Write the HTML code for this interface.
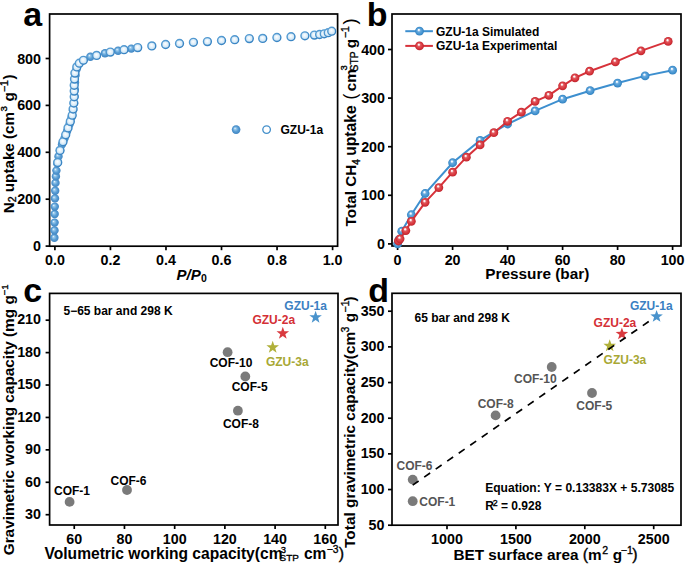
<!DOCTYPE html><html><head><meta charset="utf-8"><style>html,body{margin:0;padding:0;background:#fff;width:685px;height:564px;overflow:hidden}svg{display:block}text{font-family:"Liberation Sans",sans-serif}</style></head><body>
<svg width="685" height="564" viewBox="0 0 685 564">
<defs>
<radialGradient id="gb" cx="0.5" cy="0.5" r="0.5" fx="0.36" fy="0.34"><stop offset="0" stop-color="#f4faff"/><stop offset="0.22" stop-color="#9ccbec"/><stop offset="0.6" stop-color="#5a9ed5"/><stop offset="1" stop-color="#3f85c2"/></radialGradient>
<radialGradient id="go" cx="0.5" cy="0.5" r="0.5" fx="0.45" fy="0.4"><stop offset="0" stop-color="#ffffff"/><stop offset="0.6" stop-color="#dcedf9"/><stop offset="1" stop-color="#b8d9f0"/></radialGradient>
<linearGradient id="gos" x1="0" y1="0" x2="1" y2="1"><stop offset="0" stop-color="#5ea2d6"/><stop offset="1" stop-color="#2f7dbf"/></linearGradient>
<radialGradient id="gbb" cx="0.5" cy="0.5" r="0.5" fx="0.4" fy="0.32"><stop offset="0" stop-color="#ffffff"/><stop offset="0.14" stop-color="#f2f8fd"/><stop offset="0.38" stop-color="#69aade"/><stop offset="0.75" stop-color="#4494d0"/><stop offset="1" stop-color="#3381c0"/></radialGradient>
<radialGradient id="grr" cx="0.5" cy="0.5" r="0.5" fx="0.4" fy="0.32"><stop offset="0" stop-color="#ffffff"/><stop offset="0.14" stop-color="#fdf1f1"/><stop offset="0.38" stop-color="#e0575d"/><stop offset="0.75" stop-color="#d7343b"/><stop offset="1" stop-color="#bd262e"/></radialGradient>
</defs>
<rect width="685" height="564" fill="#fff"/>
<rect x="49.6" y="14" width="288" height="232.2" fill="none" stroke="#000" stroke-width="1.7"/>
<line x1="54.9" y1="246.2" x2="54.9" y2="250.2" stroke="#000" stroke-width="1.7"/>
<text x="54.9" y="265" font-size="14.3" text-anchor="middle" font-weight="bold" fill="#000" >0.0</text>
<line x1="110.44" y1="246.2" x2="110.44" y2="250.2" stroke="#000" stroke-width="1.7"/>
<text x="110.44" y="265" font-size="14.3" text-anchor="middle" font-weight="bold" fill="#000" >0.2</text>
<line x1="165.98" y1="246.2" x2="165.98" y2="250.2" stroke="#000" stroke-width="1.7"/>
<text x="165.98" y="265" font-size="14.3" text-anchor="middle" font-weight="bold" fill="#000" >0.4</text>
<line x1="221.52" y1="246.2" x2="221.52" y2="250.2" stroke="#000" stroke-width="1.7"/>
<text x="221.52" y="265" font-size="14.3" text-anchor="middle" font-weight="bold" fill="#000" >0.6</text>
<line x1="277.06" y1="246.2" x2="277.06" y2="250.2" stroke="#000" stroke-width="1.7"/>
<text x="277.06" y="265" font-size="14.3" text-anchor="middle" font-weight="bold" fill="#000" >0.8</text>
<line x1="332.6" y1="246.2" x2="332.6" y2="250.2" stroke="#000" stroke-width="1.7"/>
<text x="332.6" y="265" font-size="14.3" text-anchor="middle" font-weight="bold" fill="#000" >1.0</text>
<line x1="45.6" y1="246.1" x2="49.6" y2="246.1" stroke="#000" stroke-width="1.7"/>
<text x="41" y="251.1" font-size="14.3" text-anchor="end" font-weight="bold" fill="#000" >0</text>
<line x1="45.6" y1="199.2" x2="49.6" y2="199.2" stroke="#000" stroke-width="1.7"/>
<text x="41" y="204.2" font-size="14.3" text-anchor="end" font-weight="bold" fill="#000" >200</text>
<line x1="45.6" y1="152.3" x2="49.6" y2="152.3" stroke="#000" stroke-width="1.7"/>
<text x="41" y="157.3" font-size="14.3" text-anchor="end" font-weight="bold" fill="#000" >400</text>
<line x1="45.6" y1="105.4" x2="49.6" y2="105.4" stroke="#000" stroke-width="1.7"/>
<text x="41" y="110.4" font-size="14.3" text-anchor="end" font-weight="bold" fill="#000" >600</text>
<line x1="45.6" y1="58.5" x2="49.6" y2="58.5" stroke="#000" stroke-width="1.7"/>
<text x="41" y="63.5" font-size="14.3" text-anchor="end" font-weight="bold" fill="#000" >800</text>
<text x="23.3" y="26.3" font-size="34" text-anchor="start" font-weight="bold" fill="#000" >a</text>
<text font-weight="bold" transform="translate(13.8,213.2) rotate(-90)"><tspan x="0" y="0" font-size="15.2">N</tspan><tspan x="10.98" y="2.2" font-size="10.5" font-weight="normal" stroke="#000" stroke-width="0.35">2</tspan><tspan x="16.82" y="0" font-size="15.2"> uptake (cm</tspan><tspan x="101.6" y="-7.2" font-size="9.8" font-weight="normal" stroke="#000" stroke-width="0.35">3</tspan><tspan x="111.8" y="0" font-size="15.2">g</tspan><tspan x="121.2" y="-6.3" font-size="10.3" font-weight="normal" stroke="#000" stroke-width="0.35">−1</tspan><tspan x="133.8" y="0" font-size="15.2">)</tspan></text>
<text font-weight="bold" transform="translate(0,279.8)"><tspan x="176.5" y="0" font-size="15" font-style="italic">P</tspan><tspan x="186.51" y="0" font-size="15" font-style="italic">/</tspan><tspan x="190.67" y="0" font-size="15" font-style="italic">P</tspan><tspan x="200.98" y="2.5" font-size="10.5">0</tspan></text>
<circle cx="54.4" cy="237.8" r="4.2" fill="url(#gb)"/>
<circle cx="54.5" cy="230.4" r="4.2" fill="url(#gb)"/>
<circle cx="54.6" cy="222.6" r="4.2" fill="url(#gb)"/>
<circle cx="54.7" cy="214" r="4.2" fill="url(#gb)"/>
<circle cx="54.8" cy="206.6" r="4.2" fill="url(#gb)"/>
<circle cx="55" cy="198.4" r="4.2" fill="url(#gb)"/>
<circle cx="55.2" cy="190.7" r="4.2" fill="url(#gb)"/>
<circle cx="55.5" cy="182.9" r="4.2" fill="url(#gb)"/>
<circle cx="55.9" cy="176.4" r="4.2" fill="url(#gb)"/>
<circle cx="56.4" cy="170.6" r="4.2" fill="url(#gb)"/>
<circle cx="57.2" cy="163.4" r="4.2" fill="url(#gb)"/>
<circle cx="58.5" cy="156.4" r="4.2" fill="url(#gb)"/>
<circle cx="60" cy="150.4" r="4.2" fill="url(#gb)"/>
<circle cx="62" cy="144.4" r="4.2" fill="url(#gb)"/>
<circle cx="64.5" cy="138.4" r="4.2" fill="url(#gb)"/>
<circle cx="67" cy="131.4" r="4.2" fill="url(#gb)"/>
<circle cx="69.5" cy="124.4" r="4.2" fill="url(#gb)"/>
<circle cx="71.5" cy="117.4" r="4.2" fill="url(#gb)"/>
<circle cx="73" cy="110.4" r="4.2" fill="url(#gb)"/>
<circle cx="74" cy="103.4" r="4.2" fill="url(#gb)"/>
<circle cx="74.5" cy="96.4" r="4.2" fill="url(#gb)"/>
<circle cx="74.8" cy="89.4" r="4.2" fill="url(#gb)"/>
<circle cx="75" cy="82.4" r="4.2" fill="url(#gb)"/>
<circle cx="75.5" cy="75.4" r="4.2" fill="url(#gb)"/>
<circle cx="76.5" cy="69.4" r="4.2" fill="url(#gb)"/>
<circle cx="79" cy="63.9" r="4.2" fill="url(#gb)"/>
<circle cx="90.4" cy="56.8" r="4.2" fill="url(#gb)"/>
<circle cx="105" cy="53.2" r="4.2" fill="url(#gb)"/>
<circle cx="118.1" cy="50.7" r="4.2" fill="url(#gb)"/>
<circle cx="131.3" cy="48.6" r="4.2" fill="url(#gb)"/>
<circle cx="57.7" cy="162.4" r="3.95" fill="url(#go)" stroke="url(#gos)" stroke-width="1.4"/>
<circle cx="60" cy="150.4" r="3.95" fill="url(#go)" stroke="url(#gos)" stroke-width="1.4"/>
<circle cx="63" cy="141.7" r="3.95" fill="url(#go)" stroke="url(#gos)" stroke-width="1.4"/>
<circle cx="65.7" cy="134.8" r="3.95" fill="url(#go)" stroke="url(#gos)" stroke-width="1.4"/>
<circle cx="68" cy="127.9" r="3.95" fill="url(#go)" stroke="url(#gos)" stroke-width="1.4"/>
<circle cx="70.3" cy="121.4" r="3.95" fill="url(#go)" stroke="url(#gos)" stroke-width="1.4"/>
<circle cx="72.2" cy="115.2" r="3.95" fill="url(#go)" stroke="url(#gos)" stroke-width="1.4"/>
<circle cx="73.1" cy="109" r="3.95" fill="url(#go)" stroke="url(#gos)" stroke-width="1.4"/>
<circle cx="73.8" cy="103" r="3.95" fill="url(#go)" stroke="url(#gos)" stroke-width="1.4"/>
<circle cx="74.2" cy="96.8" r="3.95" fill="url(#go)" stroke="url(#gos)" stroke-width="1.4"/>
<circle cx="74.2" cy="91.1" r="3.95" fill="url(#go)" stroke="url(#gos)" stroke-width="1.4"/>
<circle cx="74.2" cy="85.3" r="3.95" fill="url(#go)" stroke="url(#gos)" stroke-width="1.4"/>
<circle cx="74.5" cy="79.1" r="3.95" fill="url(#go)" stroke="url(#gos)" stroke-width="1.4"/>
<circle cx="74.9" cy="73.1" r="3.95" fill="url(#go)" stroke="url(#gos)" stroke-width="1.4"/>
<circle cx="76.8" cy="66.9" r="3.95" fill="url(#go)" stroke="url(#gos)" stroke-width="1.4"/>
<circle cx="79.3" cy="63.2" r="3.95" fill="url(#go)" stroke="url(#gos)" stroke-width="1.4"/>
<circle cx="83.4" cy="60.3" r="3.95" fill="url(#go)" stroke="url(#gos)" stroke-width="1.4"/>
<circle cx="96.6" cy="55.4" r="3.95" fill="url(#go)" stroke="url(#gos)" stroke-width="1.4"/>
<circle cx="110.3" cy="52.1" r="3.95" fill="url(#go)" stroke="url(#gos)" stroke-width="1.4"/>
<circle cx="124" cy="49.7" r="3.95" fill="url(#go)" stroke="url(#gos)" stroke-width="1.4"/>
<circle cx="137.7" cy="47.6" r="3.95" fill="url(#go)" stroke="url(#gos)" stroke-width="1.4"/>
<circle cx="151.8" cy="45.9" r="3.95" fill="url(#go)" stroke="url(#gos)" stroke-width="1.4"/>
<circle cx="165.6" cy="44.5" r="3.95" fill="url(#go)" stroke="url(#gos)" stroke-width="1.4"/>
<circle cx="179.5" cy="43.5" r="3.95" fill="url(#go)" stroke="url(#gos)" stroke-width="1.4"/>
<circle cx="193.4" cy="42.3" r="3.95" fill="url(#go)" stroke="url(#gos)" stroke-width="1.4"/>
<circle cx="207.4" cy="41.6" r="3.95" fill="url(#go)" stroke="url(#gos)" stroke-width="1.4"/>
<circle cx="221.5" cy="40.5" r="3.95" fill="url(#go)" stroke="url(#gos)" stroke-width="1.4"/>
<circle cx="234.7" cy="39.7" r="3.95" fill="url(#go)" stroke="url(#gos)" stroke-width="1.4"/>
<circle cx="249.3" cy="38.6" r="3.95" fill="url(#go)" stroke="url(#gos)" stroke-width="1.4"/>
<circle cx="262.7" cy="38.4" r="3.95" fill="url(#go)" stroke="url(#gos)" stroke-width="1.4"/>
<circle cx="276.9" cy="37.5" r="3.95" fill="url(#go)" stroke="url(#gos)" stroke-width="1.4"/>
<circle cx="291" cy="36.7" r="3.95" fill="url(#go)" stroke="url(#gos)" stroke-width="1.4"/>
<circle cx="304.9" cy="35.8" r="3.95" fill="url(#go)" stroke="url(#gos)" stroke-width="1.4"/>
<circle cx="314.4" cy="35.1" r="3.95" fill="url(#go)" stroke="url(#gos)" stroke-width="1.4"/>
<circle cx="319.6" cy="34.5" r="3.95" fill="url(#go)" stroke="url(#gos)" stroke-width="1.4"/>
<circle cx="324.2" cy="33.8" r="3.95" fill="url(#go)" stroke="url(#gos)" stroke-width="1.4"/>
<circle cx="328.2" cy="32.7" r="3.95" fill="url(#go)" stroke="url(#gos)" stroke-width="1.4"/>
<circle cx="331.7" cy="31.2" r="3.95" fill="url(#go)" stroke="url(#gos)" stroke-width="1.4"/>
<circle cx="236.1" cy="129.6" r="4.3" fill="url(#gb)"/>
<circle cx="266.6" cy="129.6" r="3.8" fill="#fff" stroke="#4590cb" stroke-width="1.35"/>
<text x="280.5" y="133.8" font-size="12" text-anchor="start" font-weight="bold" fill="#000" >GZU-1a</text>
<rect x="392" y="14" width="289" height="232" fill="none" stroke="#000" stroke-width="1.7"/>
<line x1="397.6" y1="246" x2="397.6" y2="250" stroke="#000" stroke-width="1.7"/>
<text x="397.6" y="265" font-size="14.3" text-anchor="middle" font-weight="bold" fill="#000" >0</text>
<line x1="452.6" y1="246" x2="452.6" y2="250" stroke="#000" stroke-width="1.7"/>
<text x="452.6" y="265" font-size="14.3" text-anchor="middle" font-weight="bold" fill="#000" >20</text>
<line x1="507.6" y1="246" x2="507.6" y2="250" stroke="#000" stroke-width="1.7"/>
<text x="507.6" y="265" font-size="14.3" text-anchor="middle" font-weight="bold" fill="#000" >40</text>
<line x1="562.6" y1="246" x2="562.6" y2="250" stroke="#000" stroke-width="1.7"/>
<text x="562.6" y="265" font-size="14.3" text-anchor="middle" font-weight="bold" fill="#000" >60</text>
<line x1="617.6" y1="246" x2="617.6" y2="250" stroke="#000" stroke-width="1.7"/>
<text x="617.6" y="265" font-size="14.3" text-anchor="middle" font-weight="bold" fill="#000" >80</text>
<line x1="672.6" y1="246" x2="672.6" y2="250" stroke="#000" stroke-width="1.7"/>
<text x="672.6" y="265" font-size="14.3" text-anchor="middle" font-weight="bold" fill="#000" >100</text>
<line x1="388" y1="243.9" x2="392" y2="243.9" stroke="#000" stroke-width="1.7"/>
<text x="385" y="248.9" font-size="14.3" text-anchor="end" font-weight="bold" fill="#000" >0</text>
<line x1="388" y1="195.3" x2="392" y2="195.3" stroke="#000" stroke-width="1.7"/>
<text x="385" y="200.3" font-size="14.3" text-anchor="end" font-weight="bold" fill="#000" >100</text>
<line x1="388" y1="146.7" x2="392" y2="146.7" stroke="#000" stroke-width="1.7"/>
<text x="385" y="151.7" font-size="14.3" text-anchor="end" font-weight="bold" fill="#000" >200</text>
<line x1="388" y1="98.1" x2="392" y2="98.1" stroke="#000" stroke-width="1.7"/>
<text x="385" y="103.1" font-size="14.3" text-anchor="end" font-weight="bold" fill="#000" >300</text>
<line x1="388" y1="49.5" x2="392" y2="49.5" stroke="#000" stroke-width="1.7"/>
<text x="385" y="54.5" font-size="14.3" text-anchor="end" font-weight="bold" fill="#000" >400</text>
<text x="366.8" y="25.6" font-size="34" text-anchor="start" font-weight="bold" fill="#000" >b</text>
<text font-weight="bold" transform="translate(356,226.4) rotate(-90)"><tspan x="0" y="0" font-size="15.3">Total CH</tspan><tspan x="61.76" y="3.5" font-size="10" font-weight="normal" stroke="#000" stroke-width="0.35">4</tspan><tspan x="70.6" y="0" font-size="15.7">uptake</tspan><tspan x="126.6" y="-0.3" font-size="18.5" font-weight="normal">(</tspan><tspan x="135.2" y="0" font-size="15.3">cm</tspan><tspan x="155.8" y="-9.2" font-size="9.5" font-weight="normal" stroke="#000" stroke-width="0.35">3</tspan><tspan x="155" y="2.4" font-size="10.3" font-weight="normal" stroke="#000" stroke-width="0.35">STP</tspan><tspan x="173.9" y="0" font-size="15.3"> g</tspan><tspan x="188.4" y="-7.5" font-size="10.5" font-weight="normal" stroke="#000" stroke-width="0.35">−1</tspan><tspan x="202" y="-0.3" font-size="18.5" font-weight="normal">)</tspan></text>
<text font-weight="bold" transform="translate(0,278.6)"><tspan x="485.3" y="0" font-size="15.35">Pressure (bar)</tspan></text>
<polyline points="397.6,243.9 398.98,239.53 401.73,231.26 411.35,214.74 425.1,193.5 452.6,162.74 480.1,140.38 507.6,124 535.1,110.88 562.6,99.17 590.1,90.71 617.6,83.08 645.1,75.89 672.6,70.16" fill="none" stroke="#3d8fcf" stroke-width="2"/>
<circle cx="397.6" cy="243.9" r="4.4" fill="url(#gbb)"/>
<circle cx="398.98" cy="239.53" r="4.4" fill="url(#gbb)"/>
<circle cx="401.73" cy="231.26" r="4.4" fill="url(#gbb)"/>
<circle cx="411.35" cy="214.74" r="4.4" fill="url(#gbb)"/>
<circle cx="425.1" cy="193.5" r="4.4" fill="url(#gbb)"/>
<circle cx="452.6" cy="162.74" r="4.4" fill="url(#gbb)"/>
<circle cx="480.1" cy="140.38" r="4.4" fill="url(#gbb)"/>
<circle cx="507.6" cy="124" r="4.4" fill="url(#gbb)"/>
<circle cx="535.1" cy="110.88" r="4.4" fill="url(#gbb)"/>
<circle cx="562.6" cy="99.17" r="4.4" fill="url(#gbb)"/>
<circle cx="590.1" cy="90.71" r="4.4" fill="url(#gbb)"/>
<circle cx="617.6" cy="83.08" r="4.4" fill="url(#gbb)"/>
<circle cx="645.1" cy="75.89" r="4.4" fill="url(#gbb)"/>
<circle cx="672.6" cy="70.16" r="4.4" fill="url(#gbb)"/>
<polyline points="398.43,240.98 400.08,238.8 405.85,230.53 411.35,221.3 425.1,202.3 438.85,187.62 452.6,172.17 466.35,157.15 480.1,144.95 493.85,132.7 507.6,121.28 521.35,112.19 535.1,101.4 548.85,95.38 562.6,85.85 574.98,77.79 589.55,71.22 615.4,61.84 640.98,50.86 668.2,41.43" fill="none" stroke="#d7323a" stroke-width="2"/>
<circle cx="398.43" cy="240.98" r="4.4" fill="url(#grr)"/>
<circle cx="400.08" cy="238.8" r="4.4" fill="url(#grr)"/>
<circle cx="405.85" cy="230.53" r="4.4" fill="url(#grr)"/>
<circle cx="411.35" cy="221.3" r="4.4" fill="url(#grr)"/>
<circle cx="425.1" cy="202.3" r="4.4" fill="url(#grr)"/>
<circle cx="438.85" cy="187.62" r="4.4" fill="url(#grr)"/>
<circle cx="452.6" cy="172.17" r="4.4" fill="url(#grr)"/>
<circle cx="466.35" cy="157.15" r="4.4" fill="url(#grr)"/>
<circle cx="480.1" cy="144.95" r="4.4" fill="url(#grr)"/>
<circle cx="493.85" cy="132.7" r="4.4" fill="url(#grr)"/>
<circle cx="507.6" cy="121.28" r="4.4" fill="url(#grr)"/>
<circle cx="521.35" cy="112.19" r="4.4" fill="url(#grr)"/>
<circle cx="535.1" cy="101.4" r="4.4" fill="url(#grr)"/>
<circle cx="548.85" cy="95.38" r="4.4" fill="url(#grr)"/>
<circle cx="562.6" cy="85.85" r="4.4" fill="url(#grr)"/>
<circle cx="574.98" cy="77.79" r="4.4" fill="url(#grr)"/>
<circle cx="589.55" cy="71.22" r="4.4" fill="url(#grr)"/>
<circle cx="615.4" cy="61.84" r="4.4" fill="url(#grr)"/>
<circle cx="640.98" cy="50.86" r="4.4" fill="url(#grr)"/>
<circle cx="668.2" cy="41.43" r="4.4" fill="url(#grr)"/>
<line x1="405.3" y1="31.2" x2="432.9" y2="31.2" stroke="#3d8fcf" stroke-width="2"/>
<circle cx="419.5" cy="31.2" r="4.4" fill="url(#gbb)"/>
<line x1="405.3" y1="45.9" x2="432.9" y2="45.9" stroke="#d7323a" stroke-width="2"/>
<circle cx="419.5" cy="45.9" r="4.4" fill="url(#grr)"/>
<text x="436" y="35.5" font-size="12" text-anchor="start" font-weight="bold" fill="#000" >GZU-1a Simulated</text>
<text x="436" y="50.2" font-size="12" text-anchor="start" font-weight="bold" fill="#000" >GZU-1a Experimental</text>
<rect x="49.6" y="293.4" width="288.4" height="231.6" fill="none" stroke="#000" stroke-width="1.7"/>
<line x1="74.25" y1="525" x2="74.25" y2="529" stroke="#000" stroke-width="1.7"/>
<text x="74.25" y="544.3" font-size="14.3" text-anchor="middle" font-weight="bold" fill="#000" >60</text>
<line x1="124.46" y1="525" x2="124.46" y2="529" stroke="#000" stroke-width="1.7"/>
<text x="124.46" y="544.3" font-size="14.3" text-anchor="middle" font-weight="bold" fill="#000" >80</text>
<line x1="174.67" y1="525" x2="174.67" y2="529" stroke="#000" stroke-width="1.7"/>
<text x="174.67" y="544.3" font-size="14.3" text-anchor="middle" font-weight="bold" fill="#000" >100</text>
<line x1="224.88" y1="525" x2="224.88" y2="529" stroke="#000" stroke-width="1.7"/>
<text x="224.88" y="544.3" font-size="14.3" text-anchor="middle" font-weight="bold" fill="#000" >120</text>
<line x1="275.09" y1="525" x2="275.09" y2="529" stroke="#000" stroke-width="1.7"/>
<text x="275.09" y="544.3" font-size="14.3" text-anchor="middle" font-weight="bold" fill="#000" >140</text>
<line x1="325.3" y1="525" x2="325.3" y2="529" stroke="#000" stroke-width="1.7"/>
<text x="325.3" y="544.3" font-size="14.3" text-anchor="middle" font-weight="bold" fill="#000" >160</text>
<line x1="45.6" y1="514.7" x2="49.6" y2="514.7" stroke="#000" stroke-width="1.7"/>
<text x="41" y="519" font-size="14.3" text-anchor="end" font-weight="bold" fill="#000" >30</text>
<line x1="45.6" y1="482.28" x2="49.6" y2="482.28" stroke="#000" stroke-width="1.7"/>
<text x="41" y="486.58" font-size="14.3" text-anchor="end" font-weight="bold" fill="#000" >60</text>
<line x1="45.6" y1="449.86" x2="49.6" y2="449.86" stroke="#000" stroke-width="1.7"/>
<text x="41" y="454.16" font-size="14.3" text-anchor="end" font-weight="bold" fill="#000" >90</text>
<line x1="45.6" y1="417.45" x2="49.6" y2="417.45" stroke="#000" stroke-width="1.7"/>
<text x="41" y="421.75" font-size="14.3" text-anchor="end" font-weight="bold" fill="#000" >120</text>
<line x1="45.6" y1="385.03" x2="49.6" y2="385.03" stroke="#000" stroke-width="1.7"/>
<text x="41" y="389.33" font-size="14.3" text-anchor="end" font-weight="bold" fill="#000" >150</text>
<line x1="45.6" y1="352.61" x2="49.6" y2="352.61" stroke="#000" stroke-width="1.7"/>
<text x="41" y="356.91" font-size="14.3" text-anchor="end" font-weight="bold" fill="#000" >180</text>
<line x1="45.6" y1="320.19" x2="49.6" y2="320.19" stroke="#000" stroke-width="1.7"/>
<text x="41" y="324.49" font-size="14.3" text-anchor="end" font-weight="bold" fill="#000" >210</text>
<text x="23.2" y="301.6" font-size="34" text-anchor="start" font-weight="bold" fill="#000" >c</text>
<text font-weight="bold" transform="translate(13.8,555.3) rotate(-90)"><tspan x="0" y="0" font-size="15.35">Gravimetric working capacity (mg g</tspan><tspan x="260.1" y="-6.3" font-size="9.5" font-weight="normal" stroke="#000" stroke-width="0.35">−1</tspan></text>
<text font-weight="bold" transform="translate(0,558.6)"><tspan x="44.5" y="0" font-size="15.6">Volumetric working capacity(cm</tspan><tspan x="280.8" y="-6" font-size="9.5" font-weight="normal" stroke="#000" stroke-width="0.35">3</tspan><tspan x="279.6" y="2.2" font-size="9.9" font-weight="normal" stroke="#000" stroke-width="0.35">STP</tspan><tspan x="299.6" y="0" font-size="15.6"> cm</tspan><tspan x="326.78" y="-5.6" font-size="10.3" font-weight="normal" stroke="#000" stroke-width="0.35">−3</tspan><tspan x="338.72" y="0.3" font-size="16" font-weight="normal" stroke="#000" stroke-width="0.35">)</tspan></text>
<text x="63.5" y="315.2" font-size="12" text-anchor="start" font-weight="bold" fill="#000" >5−65 bar and 298 K</text>
<circle cx="69.6" cy="501.9" r="4.9" fill="#7a7a7a"/>
<circle cx="127" cy="490" r="4.9" fill="#7a7a7a"/>
<circle cx="227.6" cy="352.2" r="4.9" fill="#7a7a7a"/>
<circle cx="245.3" cy="376.5" r="4.9" fill="#7a7a7a"/>
<circle cx="237.9" cy="410.7" r="4.9" fill="#7a7a7a"/>
<text x="54" y="495" font-size="12" text-anchor="start" font-weight="bold" fill="#000" >COF-1</text>
<text x="110.5" y="484.5" font-size="12" text-anchor="start" font-weight="bold" fill="#000" >COF-6</text>
<text x="209.7" y="366.7" font-size="12" text-anchor="start" font-weight="bold" fill="#000" >COF-10</text>
<text x="231.7" y="391.2" font-size="12" text-anchor="start" font-weight="bold" fill="#000" >COF-5</text>
<text x="222.9" y="427.5" font-size="12" text-anchor="start" font-weight="bold" fill="#000" >COF-8</text>
<polygon points="315.6,310.7 317.15,315.16 321.88,315.26 318.11,318.12 319.48,322.64 315.6,319.94 311.72,322.64 313.09,318.12 309.32,315.26 314.05,315.16" fill="#4a93cc"/>
<polygon points="282.8,326.8 284.35,331.26 289.08,331.36 285.31,334.22 286.68,338.74 282.8,336.04 278.92,338.74 280.29,334.22 276.52,331.36 281.25,331.26" fill="#d93a3f"/>
<polygon points="272.7,340.8 274.25,345.26 278.98,345.36 275.21,348.22 276.58,352.74 272.7,350.04 268.82,352.74 270.19,348.22 266.42,345.36 271.15,345.26" fill="#b0b03a"/>
<text x="284.3" y="310" font-size="12" text-anchor="start" font-weight="bold" fill="#3b80c2" >GZU-1a</text>
<text x="252.4" y="324.4" font-size="12" text-anchor="start" font-weight="bold" fill="#d42f36" >GZU-2a</text>
<text x="265.9" y="365.7" font-size="12" text-anchor="start" font-weight="bold" fill="#a8a835" >GZU-3a</text>
<rect x="392" y="293.3" width="289" height="231.9" fill="none" stroke="#000" stroke-width="1.7"/>
<line x1="447" y1="525.2" x2="447" y2="529.2" stroke="#000" stroke-width="1.7"/>
<text x="447" y="544.3" font-size="14.3" text-anchor="middle" font-weight="bold" fill="#000" >1000</text>
<line x1="515.9" y1="525.2" x2="515.9" y2="529.2" stroke="#000" stroke-width="1.7"/>
<text x="515.9" y="544.3" font-size="14.3" text-anchor="middle" font-weight="bold" fill="#000" >1500</text>
<line x1="584.8" y1="525.2" x2="584.8" y2="529.2" stroke="#000" stroke-width="1.7"/>
<text x="584.8" y="544.3" font-size="14.3" text-anchor="middle" font-weight="bold" fill="#000" >2000</text>
<line x1="653.7" y1="525.2" x2="653.7" y2="529.2" stroke="#000" stroke-width="1.7"/>
<text x="653.7" y="544.3" font-size="14.3" text-anchor="middle" font-weight="bold" fill="#000" >2500</text>
<line x1="388" y1="525.2" x2="392" y2="525.2" stroke="#000" stroke-width="1.7"/>
<text x="384.5" y="529.5" font-size="14.3" text-anchor="end" font-weight="bold" fill="#000" >50</text>
<line x1="388" y1="489.54" x2="392" y2="489.54" stroke="#000" stroke-width="1.7"/>
<text x="384.5" y="493.84" font-size="14.3" text-anchor="end" font-weight="bold" fill="#000" >100</text>
<line x1="388" y1="453.87" x2="392" y2="453.87" stroke="#000" stroke-width="1.7"/>
<text x="384.5" y="458.17" font-size="14.3" text-anchor="end" font-weight="bold" fill="#000" >150</text>
<line x1="388" y1="418.21" x2="392" y2="418.21" stroke="#000" stroke-width="1.7"/>
<text x="384.5" y="422.51" font-size="14.3" text-anchor="end" font-weight="bold" fill="#000" >200</text>
<line x1="388" y1="382.54" x2="392" y2="382.54" stroke="#000" stroke-width="1.7"/>
<text x="384.5" y="386.84" font-size="14.3" text-anchor="end" font-weight="bold" fill="#000" >250</text>
<line x1="388" y1="346.88" x2="392" y2="346.88" stroke="#000" stroke-width="1.7"/>
<text x="384.5" y="351.18" font-size="14.3" text-anchor="end" font-weight="bold" fill="#000" >300</text>
<line x1="388" y1="311.21" x2="392" y2="311.21" stroke="#000" stroke-width="1.7"/>
<text x="384.5" y="315.51" font-size="14.3" text-anchor="end" font-weight="bold" fill="#000" >350</text>
<text x="368.3" y="302" font-size="34" text-anchor="start" font-weight="bold" fill="#000" >d</text>
<text font-weight="bold" transform="translate(354.9,547.9) rotate(-90)"><tspan x="0" y="0" font-size="15.4">Total gravimetric capacity(cm</tspan><tspan x="215.5" y="-5.8" font-size="10.5" font-weight="normal" stroke="#000" stroke-width="0.35">3</tspan><tspan x="221.4" y="0" font-size="15.3"> g</tspan><tspan x="235.5" y="-5.8" font-size="10.5" font-weight="normal" stroke="#000" stroke-width="0.35">−1</tspan><tspan x="246.4" y="0" font-size="15.3">)</tspan></text>
<text font-weight="bold" transform="translate(0,559.9)"><tspan x="453.5" y="0" font-size="15.3">BET surface area </tspan><tspan x="582.77" y="0.3" font-size="16" font-weight="normal" stroke="#000" stroke-width="0.35">(</tspan><tspan x="587.9" y="0" font-size="15.3">m</tspan><tspan x="602.2" y="-6.3" font-size="10.5" font-weight="normal" stroke="#000" stroke-width="0.35">2</tspan><tspan x="608.5" y="0" font-size="15.3"> g</tspan><tspan x="620.8" y="-6.3" font-size="10.5" font-weight="normal" stroke="#000" stroke-width="0.35">−1</tspan><tspan x="632.2" y="0.3" font-size="16" font-weight="normal" stroke="#000" stroke-width="0.35">)</tspan></text>
<text x="414.5" y="321.6" font-size="12" text-anchor="start" font-weight="bold" fill="#000" >65 bar and 298 K</text>
<circle cx="412.7" cy="501.2" r="4.9" fill="#7a7a7a"/>
<circle cx="412.7" cy="479.6" r="4.9" fill="#7a7a7a"/>
<circle cx="495.6" cy="415.4" r="4.9" fill="#7a7a7a"/>
<circle cx="551.7" cy="367" r="4.9" fill="#7a7a7a"/>
<circle cx="592" cy="393" r="4.9" fill="#7a7a7a"/>
<text x="419.3" y="505.6" font-size="12" text-anchor="start" font-weight="bold" fill="#555" >COF-1</text>
<text x="396.5" y="469.6" font-size="12" text-anchor="start" font-weight="bold" fill="#555" >COF-6</text>
<text x="477.7" y="407.9" font-size="12" text-anchor="start" font-weight="bold" fill="#555" >COF-8</text>
<text x="514" y="382.7" font-size="12" text-anchor="start" font-weight="bold" fill="#555" >COF-10</text>
<text x="576.3" y="409.8" font-size="12" text-anchor="start" font-weight="bold" fill="#555" >COF-5</text>
<polygon points="656.6,309.9 658.15,314.36 662.88,314.46 659.11,317.32 660.48,321.84 656.6,319.14 652.72,321.84 654.09,317.32 650.32,314.46 655.05,314.36" fill="#4a93cc"/>
<polygon points="621.9,327.4 623.45,331.86 628.18,331.96 624.41,334.82 625.78,339.34 621.9,336.64 618.02,339.34 619.39,334.82 615.62,331.96 620.35,331.86" fill="#d93a3f"/>
<polygon points="609.7,339.3 611.25,343.76 615.98,343.86 612.21,346.72 613.58,351.24 609.7,348.54 605.82,351.24 607.19,346.72 603.42,343.86 608.15,343.76" fill="#b0b03a"/>
<text x="629.9" y="310.4" font-size="12" text-anchor="start" font-weight="bold" fill="#3b80c2" >GZU-1a</text>
<text x="593.6" y="327.2" font-size="12" text-anchor="start" font-weight="bold" fill="#d42f36" >GZU-2a</text>
<text x="603.6" y="363.5" font-size="12" text-anchor="start" font-weight="bold" fill="#a8a835" >GZU-3a</text>
<line x1="412.7" y1="485.1" x2="652.6" y2="318.8" stroke="#000" stroke-width="1.7" stroke-dasharray="7.2 6.8"/>
<text x="485.2" y="492.4" font-size="12.05" text-anchor="start" font-weight="bold" fill="#000" >Equation: Y = 0.13383X + 5.73085</text>
<text font-weight="bold" transform="translate(0,510.3)"><tspan x="485.2" y="0" font-size="12">R</tspan><tspan x="492.77" y="-4.4" font-size="8.8" font-weight="normal" stroke="#000" stroke-width="0.35">2</tspan><tspan x="497.66" y="0" font-size="12"> = 0.928</tspan></text>
</svg></body></html>
